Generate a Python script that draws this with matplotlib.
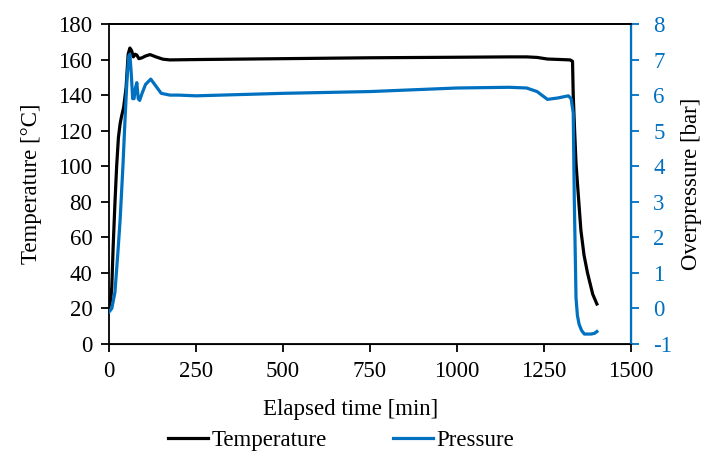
import numpy as np
import matplotlib.pyplot as plt

plt.rcParams['font.family'] = ['Liberation Serif', 'DejaVu Serif']
plt.rcParams['axes.unicode_minus'] = False

# temperature curve [min, degC]
t_temp = [0, 5, 8, 12, 17, 22, 27, 32, 36, 42, 49, 55, 60, 65, 70, 75, 80, 86, 95, 105, 118, 135,
          155, 175, 250, 500, 750, 1000, 1150, 1200, 1230, 1260, 1300, 1325, 1332, 1334, 1338, 1342,
          1350, 1356, 1365, 1375, 1390, 1402]
temp = [21, 25, 32, 55, 79, 100, 116, 124, 128, 133, 144, 163, 166.5, 165, 161.5, 163, 162.5, 160.5,
        161, 162, 162.8, 161.5, 160.2, 159.8, 160, 160.5, 161, 161.3, 161.5, 161.5, 161.2, 160.3, 160,
        159.8, 159, 140, 120, 101.5, 80, 64, 50, 40, 28, 22.5]

# overpressure curve [min, bar]
t_pres = [0, 8, 17, 25, 32, 40, 46, 52, 57, 60, 64, 68, 72, 76, 80, 84, 88, 95, 105, 120, 135, 150,
          175, 200, 250, 500, 750, 1000, 1150, 1200, 1230, 1260, 1290, 1320, 1328, 1334, 1337, 1342,
          1346, 1351, 1358, 1366, 1385, 1395, 1402]
pres = [-0.1, 0.0, 0.45, 1.5, 2.5, 4.0, 5.3, 6.5, 7.1, 7.15, 6.6, 5.9, 5.9, 6.2, 6.35, 5.9, 5.85,
        6.05, 6.3, 6.45, 6.25, 6.05, 6.0, 6.0, 5.98, 6.05, 6.1, 6.2, 6.22, 6.2, 6.1, 5.88, 5.92,
        5.98, 5.9, 5.5, 3.1, 0.3, -0.2, -0.45, -0.62, -0.72, -0.72, -0.7, -0.65]

blue = '#0070C0'
fs = 16.5

fig, ax = plt.subplots(figsize=(7.07, 4.59), dpi=100)
fig.subplots_adjust(left=109/707, right=631/707, top=1-24/459, bottom=1-344/459)
ax2 = ax.twinx()

l1, = ax.plot(t_temp, temp, color='black', lw=2.3)
l2, = ax2.plot(t_pres, pres, color=blue, lw=2.3)

ax.set_xlim(0, 1500)
ax.set_ylim(0, 180)
ax.set_xticks(np.arange(0, 1501, 250))
ax.set_yticks(np.arange(0, 181, 20))
ax2.set_ylim(-1, 8)
ax2.set_yticks(np.arange(-1, 9, 1))

ax.tick_params(direction='out', length=6, width=1.3, labelsize=fs, pad=6)
ax2.tick_params(direction='out', length=6, width=1.3, labelsize=fs, pad=10,
                colors=blue)
for s in ['left', 'bottom', 'top']:
    ax.spines[s].set_linewidth(1.3)
ax2.spines['right'].set_color(blue)
ax2.spines['right'].set_linewidth(1.6)
ax2.spines['top'].set_linewidth(1.3)
ax2.spines['left'].set_visible(False)

ax.set_ylabel('Temperature [°C]', fontsize=fs, labelpad=12)
ax2.set_ylabel('Overpressure [bar]', fontsize=fs, labelpad=6)
fig.text(351/707, 1-410/459, 'Elapsed time [min]', fontsize=fs, ha='center', va='center')

fig.legend([l1, l2], ['Temperature', 'Pressure'], loc='center',
           bbox_to_anchor=(341/707, 1-440/459), ncol=2, frameon=False,
           fontsize=fs, handlelength=1.75, columnspacing=2.9, handletextpad=0.15)

fig.savefig('out.png', dpi=100)
